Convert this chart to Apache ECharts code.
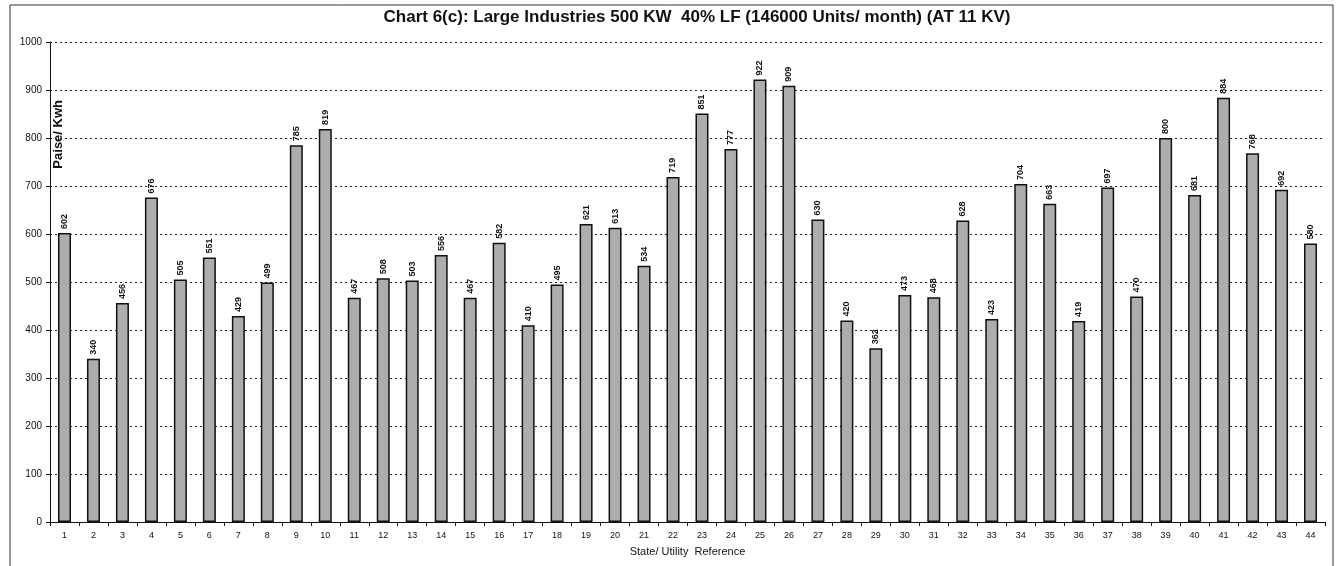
<!DOCTYPE html>
<html>
<head>
<meta charset="utf-8">
<script src="https://cdn.jsdelivr.net/npm/echarts@6/dist/echarts.min.js"></script>
<style>
  html, body { margin: 0; padding: 0; background: #fff; }
  #chart { width: 1338px; height: 566px; }
</style>
</head>
<body>
<div id="chart"></div>
<script>
var categories = []
for (var i = 1; i <= 44; i++) categories.push(String(i))

var values = [602, 340, 456, 676, 505, 551, 429, 499, 785, 819,
  467, 508, 503, 556, 467, 582, 410, 495, 621, 613,
  534, 719, 851, 777, 922, 909, 630, 420, 362, 473,
  468, 628, 423, 704, 663, 419, 697, 470, 800, 681,
  884, 768, 692, 580]

var fontFamily = 'Arial, "Liberation Sans", sans-serif'

var chart = echarts.init(document.getElementById('chart'))

var option = {
  animation: false,
  backgroundColor: '#fff',
  title: {
    text: 'Chart 6(c): Large Industries 500 KW  40% LF (146000 Units/ month) (AT 11 KV)',
    left: 692,
    textAlign: 'center',
    top: 4,
    textStyle: { fontFamily: fontFamily, fontSize: 17, fontWeight: 'bold', color: '#111' }
  },
  graphic: [
    {
      type: 'rect',
      shape: { x: 10, y: 5, width: 1323, height: 570 },
      style: { fill: 'none', stroke: '#333', lineWidth: 1 },
      silent: true
    },
    {
      type: 'text',
      left: 52,
      top: 100,
      rotation: Math.PI / 2,
      style: { text: 'Paise/ Kwh', fontFamily: fontFamily, fontSize: 13, fontWeight: 'bold', fill: '#111' }
    }
  ],
  grid: {
    left: 50,
    right: 13,
    top: 42,
    bottom: 44
  },
  xAxis: {
    type: 'category',
    data: categories,
    name: 'State/ Utility  Reference',
    nameLocation: 'middle',
    nameGap: 24,
    nameTextStyle: { fontFamily: fontFamily, fontSize: 11, color: '#111' },
    axisLine: { lineStyle: { color: '#111', width: 1 } },
    axisTick: { show: true, length: 4, lineStyle: { color: '#111' } },
    axisLabel: { fontFamily: fontFamily, fontSize: 9, color: '#111', margin: 9, interval: 0 }
  },
  yAxis: {
    type: 'value',
    min: 0,
    max: 1000,
    interval: 100,
    axisLine: { show: true, lineStyle: { color: '#111', width: 1 } },
    axisTick: { show: true, length: 4, lineStyle: { color: '#111' } },
    axisLabel: {
      fontFamily: fontFamily, fontSize: 10, color: '#111', margin: 8,
      formatter: function (v) { return String(v) }
    },
    splitLine: { show: true, lineStyle: { color: '#222', type: [2, 3], width: 1 } }
  },
  series: [
    {
      type: 'bar',
      data: values,
      barWidth: 13,
      itemStyle: {
        color: '#adadad',
        borderColor: '#111',
        borderWidth: 1.5
      },
      label: {
        show: true,
        position: 'top',
        rotate: 90,
        align: 'left',
        verticalAlign: 'middle',
        distance: 4,
        fontFamily: fontFamily,
        fontSize: 9,
        fontWeight: 'bold',
        color: '#111'
      }
    }
  ]
}

chart.setOption(option)
</script>
</body>
</html>
